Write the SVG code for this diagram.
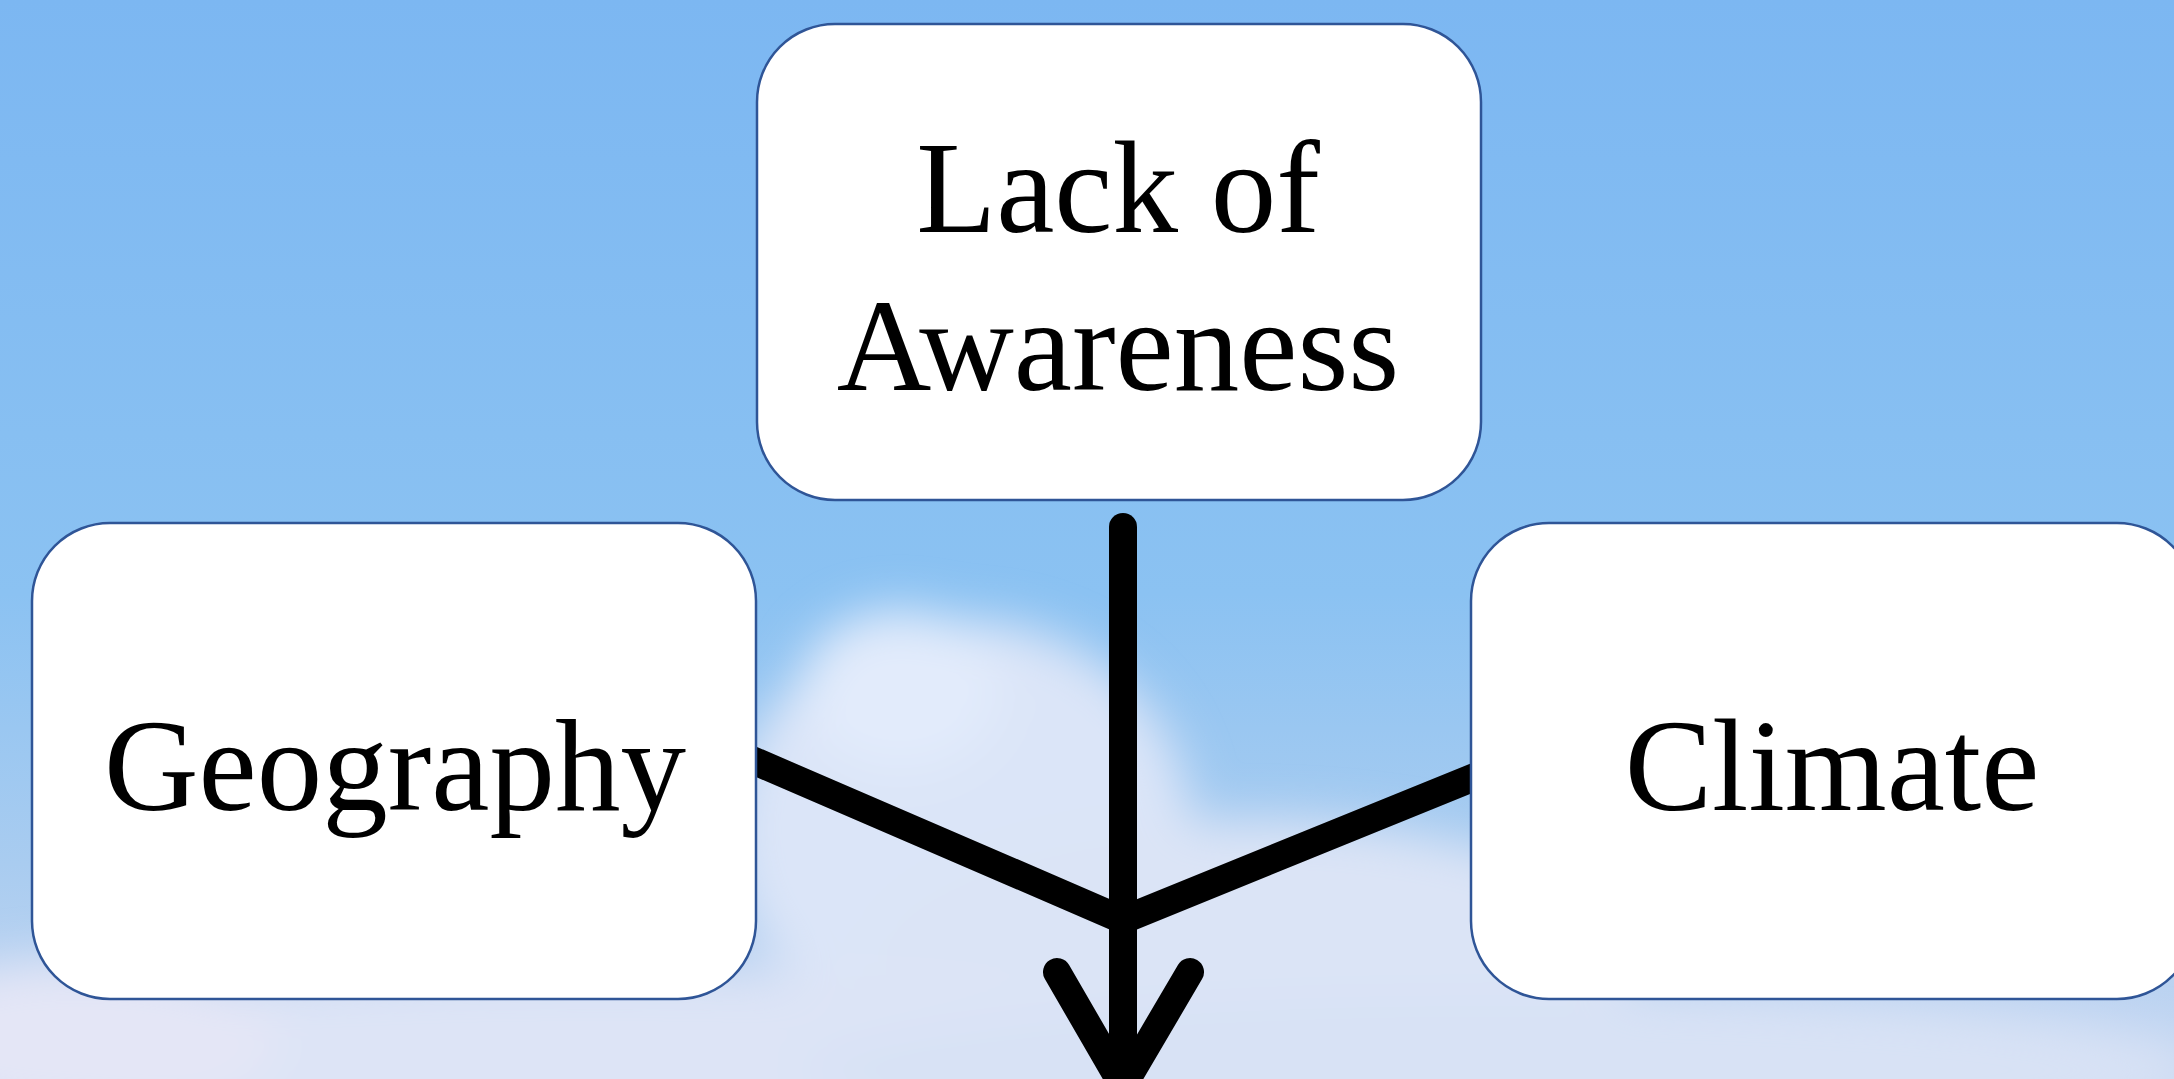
<svg xmlns="http://www.w3.org/2000/svg" width="2174" height="1079" viewBox="0 0 2174 1079">
  <style>
    .box { fill: #ffffff; stroke: #2f5597; stroke-width: 2.5; }
    .label { font-family: "Liberation Serif", "Times New Roman", serif; font-size: 131px; fill: #000000; text-anchor: middle; }
    .conn { fill: none; stroke: #000000; stroke-width: 28; }
  </style>
  <defs>
    <linearGradient id="sky" x1="0" y1="0" x2="0" y2="1">
      <stop offset="0" stop-color="#7cb7f2"/>
      <stop offset="0.55" stop-color="#8bc2f2"/>
      <stop offset="0.8" stop-color="#a9ccf0"/>
      <stop offset="1" stop-color="#c8d8f2"/>
    </linearGradient>
    <filter id="blur" x="-50%" y="-50%" width="200%" height="200%">
      <feGaussianBlur stdDeviation="24"/>
    </filter>
  </defs>

  <g id="background">
    <rect x="0" y="0" width="2174" height="1079" fill="url(#sky)"/>
    <g filter="url(#blur)">
      <ellipse cx="960" cy="830" rx="230" ry="210" fill="#dbe5f8"/>
      <ellipse cx="900" cy="690" rx="100" ry="80" fill="#e2ebfb"/>
      <ellipse cx="1250" cy="960" rx="380" ry="140" fill="#dbe4f6"/>
      <ellipse cx="600" cy="1060" rx="700" ry="90" fill="#dde4f6"/>
      <ellipse cx="1500" cy="1070" rx="700" ry="80" fill="#d8e2f5"/>
      <ellipse cx="80" cy="1040" rx="200" ry="80" fill="#e4e6f6"/>
    </g>
  </g>

  <g id="connectors">
    <path class="conn" d="M745,757 L1123,920 L1482,774" stroke-linejoin="miter" stroke-linecap="butt"/>
    <line class="conn" x1="1123" y1="527" x2="1123" y2="1070" stroke-linecap="round"/>
    <path class="conn" d="M1057,972 L1123,1086 L1190,972" stroke-width="32" stroke-linecap="round" stroke-linejoin="miter"/>
  </g>

  <g id="node-lack-of-awareness">
    <rect class="box" x="757" y="24" width="724" height="476" rx="78" ry="78"/>
    <text class="label" x="1118" y="232">Lack of</text>
    <text class="label" x="1118" y="390">Awareness</text>
  </g>

  <g id="node-geography">
    <rect class="box" x="32" y="523" width="724" height="476" rx="78" ry="78"/>
    <text class="label" x="395" y="810">Geography</text>
  </g>

  <g id="node-climate">
    <rect class="box" x="1471" y="523" width="724" height="476" rx="78" ry="78"/>
    <text class="label" x="1832" y="810">Climate</text>
  </g>
</svg>
